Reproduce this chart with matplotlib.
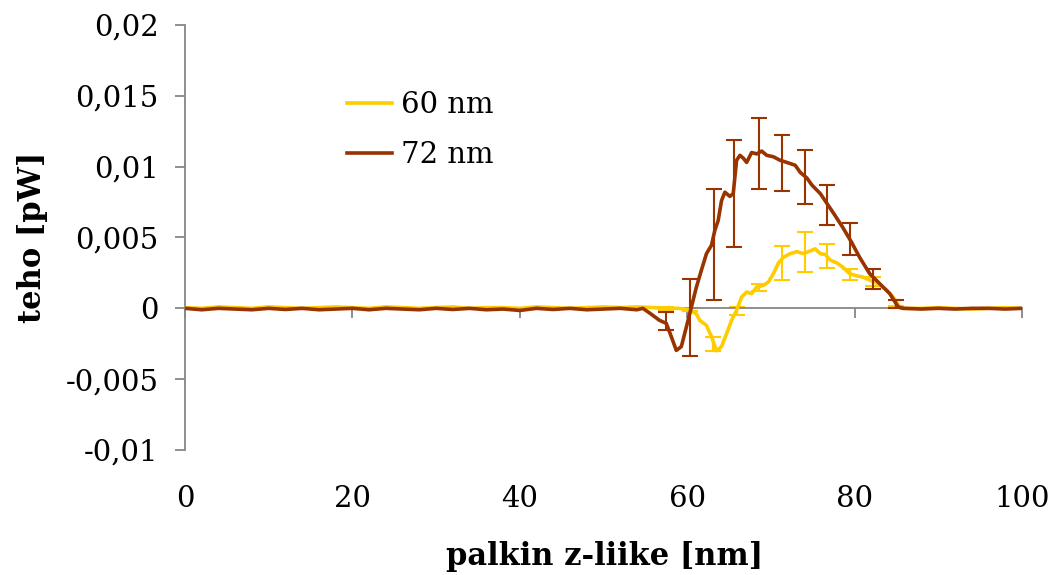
import matplotlib
matplotlib.use("Agg")
import matplotlib.pyplot as plt

# ---------------- data ----------------
x72 = [0, 2, 4, 6, 8, 10, 12, 14, 16, 18, 20, 22, 24, 26, 28, 30, 32, 34, 36, 38,
       40, 42, 44, 46, 48, 50, 52, 54, 54.7, 55.6, 56.7, 57.5, 58.1, 58.7, 59.3,
       60.1, 60.7, 61.1, 61.7, 62.3, 62.9, 63.3, 63.7, 64.1, 64.5, 65.1, 65.5,
       65.9, 66.3, 66.7, 67.1, 67.7, 68.3, 68.9, 69.5, 70.3, 71.1, 71.9, 72.9,
       73.5, 74.3, 74.9, 75.9, 76.7, 77.5, 78.6, 79.6, 80.6, 81.8, 83.0, 84.2,
       85.2, 85.8, 88, 90, 92, 94, 96, 98, 100]
y72 = [0.0, -0.0001, 0.0, -0.00005, -0.0001, 0.0, -0.00008, 0.0, -0.0001, -0.00005,
       0.0, -0.0001, 0.0, -0.00005, -0.0001, 0.0, -0.00008, 0.0, -0.0001, -0.00005,
       -0.00015, 0.0, -0.00008, 0.0, -0.0001, -0.00005, 0.0, -0.0001, 0.0,
       -0.00037, -0.00085, -0.00106, -0.0020, -0.00297, -0.0027,
       -0.00085, 0.00056, 0.0015, 0.0027, 0.00386, 0.00445, 0.0055, 0.0062, 0.0076,
       0.0082, 0.0079, 0.0081, 0.01045, 0.0108, 0.0106, 0.0103, 0.0110, 0.0109,
       0.0111, 0.0108, 0.0107, 0.01045, 0.0103, 0.0101, 0.0096, 0.0092, 0.0087,
       0.0081, 0.0074, 0.0067, 0.0057, 0.0047, 0.0036, 0.00245, 0.00174, 0.00104,
       0.0001, 0.0, -0.00005, 0.0, -0.00005, 0.0, 0.0, -0.00005, 0.0]

x60 = [0, 2, 4, 6, 8, 10, 12, 14, 16, 18, 20, 22, 24, 26, 28, 30, 32, 34, 36, 38,
       40, 42, 44, 46, 48, 50, 52, 54, 56, 58, 59, 60.3, 61.1, 61.5, 62.3, 62.9,
       63.5, 64.1, 64.7, 65.3, 65.9, 66.5, 67.1, 67.7, 68.3, 69.1, 69.7, 70.3,
       70.9, 71.5, 72.3, 73.1, 73.9, 74.7, 75.3, 75.9, 76.5, 77.1, 77.9, 78.6,
       79.4, 80.2, 81.0, 81.8, 82.8, 83.8, 84.6, 85.5, 88, 90, 92, 94, 96, 98, 100]
y60 = [0.00005, 0.0, 0.0001, 0.00005, 0.0, 0.0001, 0.00005, 0.0, 0.00005, 0.0001,
       0.00005, 0.0, 0.0001, 0.00005, 0.0, 0.00005, 0.0001, 0.0, 0.00005, 0.00005,
       0.0, 0.0001, 0.00005, 0.0, 0.00005, 0.0001, 0.00005, 0.0001, 0.00005, 0.0,
       0.0, -0.0001, -0.0004, -0.00085, -0.0012,
       -0.0020, -0.0030, -0.0027, -0.0018, -0.00085, -0.00014, 0.0008, 0.00115,
       0.00104, 0.0015, 0.00162, 0.00186, 0.00245, 0.0032, 0.0036, 0.00386, 0.0040,
       0.00386, 0.00405, 0.0042, 0.00386, 0.0038, 0.0034, 0.0032, 0.0029, 0.00245,
       0.0023, 0.0022, 0.0020, 0.00174, 0.0013, 0.0008, 0.0, 0.0, 0.00005, 0.0,
       -0.00005, 0.0, 0.00005, 0.0]

ex72 = [57.5, 60.3, 63.2, 65.6, 68.6, 71.3, 74.1, 76.7, 79.4, 82.2, 85.0]
ey72 = [-0.0009, -0.00064, 0.0045, 0.0081, 0.0109, 0.01025, 0.0093, 0.0073, 0.0049, 0.0021, 0.0003]
ee72 = [0.00065, 0.0027, 0.0039, 0.0038, 0.0025, 0.0020, 0.0019, 0.0014, 0.0011, 0.0007, 0.0003]

ex60 = [57.5, 60.3, 63.1, 65.9, 68.6, 71.3, 74.1, 76.7, 79.4, 82.2, 85.0]
ey60 = [0.0, -0.0001, -0.0025, -0.0002, 0.00145, 0.0032, 0.0040, 0.0037, 0.0024, 0.0019, 0.0004]
ee60 = [0.0001, 0.0001, 0.0005, 0.0003, 0.00025, 0.0012, 0.0014, 0.00085, 0.0004, 0.0003, 0.0002]

xticks = [0, 20, 40, 60, 80, 100]
xticklabels = ["0", "20", "40", "60", "80", "100"]
yticks = [-0.01, -0.005, 0, 0.005, 0.01, 0.015, 0.02]
yticklabels = ["-0,01", "-0,005", "0", "0,005", "0,01", "0,015", "0,02"]

series_labels = ["60 nm", "72 nm"]
c60 = "#FFCC00"
c72 = "#993300"
axis_col = "#868686"

FONT = "DejaVu Serif"
FS = 21
FSB = 22

# ---------------- figure ----------------
fig = plt.figure(figsize=(10.59, 5.75), dpi=100)
ax = fig.add_axes([185/1059, 1-450/575, (1022-185)/1059, (450-25)/575])

ax.errorbar(ex60, ey60, yerr=ee60, fmt="none", ecolor=c60, elinewidth=1.5,
            capsize=5.5, capthick=1.5, zorder=2)
ax.plot(x60, y60, color=c60, lw=2.6, label=series_labels[0], zorder=3)
ax.errorbar(ex72, ey72, yerr=ee72, fmt="none", ecolor=c72, elinewidth=1.5,
            capsize=5.5, capthick=1.5, zorder=4)
ax.plot(x72, y72, color=c72, lw=2.6, label=series_labels[1], zorder=5)

ax.set_xlim(0, 100)
ax.set_ylim(-0.01, 0.02)

for s in ["top", "right"]:
    ax.spines[s].set_visible(False)
ax.spines["bottom"].set_position(("data", 0))
ax.spines["bottom"].set_color(axis_col)
ax.spines["left"].set_color(axis_col)
ax.spines["bottom"].set_linewidth(1.3)
ax.spines["left"].set_linewidth(1.3)

ax.set_xticks(xticks)
ax.tick_params(axis="x", direction="out", length=7, width=1.3, color=axis_col,
               labelbottom=False)
ax.set_yticks(yticks)
ax.set_yticklabels(yticklabels, fontfamily=FONT, fontsize=FS)
ax.tick_params(axis="y", direction="out", length=7, width=1.3, color=axis_col,
               pad=12)

sec = ax.secondary_xaxis("bottom")
sec.spines["bottom"].set_visible(False)
sec.set_xticks(xticks)
sec.set_xticklabels(xticklabels, fontfamily=FONT, fontsize=FS)
sec.tick_params(length=0, pad=25)

fig.text(605/1059, 1-556/575, "palkin z-liike [nm]", fontfamily=FONT,
         fontweight="bold", fontsize=FSB, ha="center", va="center")
fig.text(33/1059, 1-237/575, "teho [pW]", fontfamily=FONT, fontweight="bold",
         fontsize=FSB, ha="center", va="center", rotation=90)

leg = ax.legend(loc="upper left", bbox_to_anchor=(347/1059, 1-91/575),
                bbox_transform=fig.transFigure, frameon=False,
                prop={"family": FONT, "size": FS}, handlelength=1.55,
                handletextpad=0.3, labelspacing=0.75, borderpad=0,
                borderaxespad=0)

fig.savefig("out.png", dpi=100)
